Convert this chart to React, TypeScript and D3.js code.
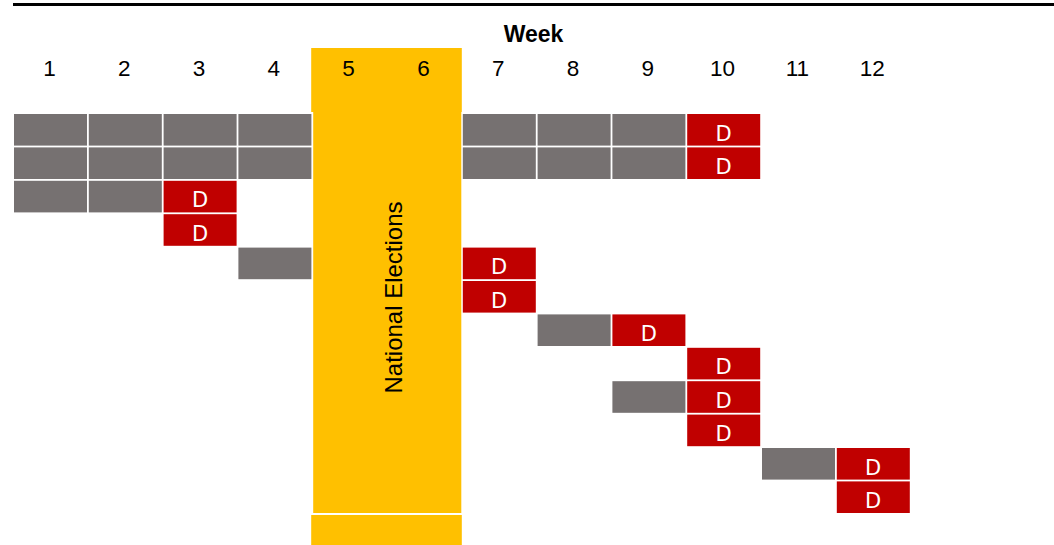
import * as d3 from "d3";

const weeks = [1, 2, 3, 4, 5, 6, 7, 8, 9, 10, 11, 12];
const electionWeeks = [5, 6];
const electionLabel = "National Elections";
// one entry per row, top to bottom
const greyWeeks = [
  [1, 2, 3, 4, 7, 8, 9],
  [1, 2, 3, 4, 7, 8, 9],
  [1, 2],
  [],
  [4],
  [],
  [8],
  [],
  [9],
  [],
  [11],
  [],
];
const deadlineWeeks = [[10], [10], [3], [3], [7], [7], [9], [10], [10], [10], [12], [12]];

const W = 1054;
const H = 545;
const GREY = "#767171";
const RED = "#C00000";
const YELLOW = "#FFC000";
const FONT = "'Liberation Sans', Arial, sans-serif";

export default function App() {
  const x = d3.scaleBand<number>().domain(weeks).range([13, 13 + 12 * 74.8]).padding(0);
  const rowIdx = d3.range(greyWeeks.length);
  const y = d3.scaleBand<number>().domain(rowIdx).range([114, 114 + rowIdx.length * 33.4]).padding(0);
  const cw = x.bandwidth();
  const ch = y.bandwidth();

  const cells: { week: number; row: number; kind: string }[] = [];
  rowIdx.forEach((r) => {
    greyWeeks[r].forEach((w) => cells.push({ week: w, row: r, kind: "grey" }));
    deadlineWeeks[r].forEach((w) => cells.push({ week: w, row: r, kind: "D" }));
  });

  const ex0 = x(electionWeeks[0])!;
  const ex1 = x(electionWeeks[electionWeeks.length - 1])! + cw;
  const bodyTop = y(0)! - 2;
  const bodyBottom = y(rowIdx.length - 1)! + ch - 1.8;

  return (
    <svg width={W} height={H} style={{ position: "absolute", left: 0, top: 0 }} fontFamily={FONT}>
      <rect width={W} height={H} fill="#fff" />
      <line x1={13} x2={W} y1={4.5} y2={4.5} stroke="#000" strokeWidth={3} />

      {/* election band */}
      <rect x={ex0 - 1} y={48} width={ex1 - ex0 + 1} height={bodyTop - 48} fill={YELLOW} />
      <rect x={ex0 + 1} y={bodyTop} width={ex1 - ex0 - 1.5} height={bodyBottom - bodyTop} fill={YELLOW} />
      <rect x={ex0 - 1} y={bodyBottom + 2} width={ex1 - ex0 + 1} height={H - bodyBottom - 2} fill={YELLOW} />
      <text
        transform={`translate(${(ex0 + ex1) / 2 + 15},${(bodyTop + bodyBottom) / 2 - 15}) rotate(-90)`}
        textAnchor="middle"
        fontSize={24}
        fill="#000"
      >
        {electionLabel}
      </text>

      <text x={533.5} y={42} textAnchor="middle" fontSize={23} fontWeight="bold" fill="#000">
        Week
      </text>
      {weeks.map((w) => (
        <text key={w} x={x(w)! + cw / 2 - 1} y={75.5} textAnchor="middle" fontSize={22.5} fill="#000">
          {w}
        </text>
      ))}

      {cells.map((c, i) => (
        <g key={i}>
          <rect
            x={x(c.week)! + 1}
            y={y(c.row)!}
            width={cw - 1.8}
            height={ch - 1.8}
            fill={c.kind === "grey" ? GREY : RED}
          />
          {c.kind === "D" && (
            <text
              x={x(c.week)! + cw / 2}
              y={y(c.row)! + 26.5}
              textAnchor="middle"
              fontSize={21}
              fontFamily="'DejaVu Sans', sans-serif"
              fill="#fff"
            >
              D
            </text>
          )}
        </g>
      ))}
    </svg>
  );
}
